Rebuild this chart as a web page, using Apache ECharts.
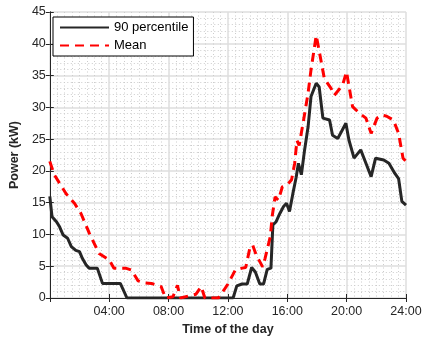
<!DOCTYPE html>
<html>
<head>
<meta charset="utf-8">
<script src="https://cdn.jsdelivr.net/npm/echarts@6/dist/echarts.min.js"></script>
<style>html,body{margin:0;padding:0;background:#fff}#c{width:427px;height:342px}</style>
</head>
<body>
<div id="c"></div>
<script>
// Data (hour of day, kW)
var p90Hours = [0,0.15,0.45,0.66,0.9,1.2,1.45,1.75,2.0,2.2,2.45,2.65,3.2,3.55,4.75,5.2,12.35,12.6,12.95,13.3,13.6,13.85,14.15,14.4,14.65,14.9,15.03,15.25,15.5,15.75,15.95,16.15,16.4,16.6,16.75,16.95,17.15,17.4,17.6,17.95,18.15,18.4,18.85,19.05,19.4,19.7,19.95,20.15,20.5,20.95,21.3,21.65,21.95,22.5,22.85,23.25,23.5,23.72,24];
var p90Values = [16,12.8,12.0,11.2,9.9,9.4,8.1,7.5,7.3,6.2,5.2,4.7,4.7,2.3,2.3,0,0,1.9,2.2,2.2,4.8,4.1,2.2,2.2,4.5,4.7,11.5,12.0,13.3,14.4,14.9,13.6,16.7,19.0,21.2,19.4,23.0,26.9,31.7,33.8,33.2,28.3,28.0,25.6,25.1,26.4,27.5,24.9,22.0,23.3,21.2,19.1,22.0,21.7,21.2,19.6,18.8,15.2,14.6];
var meanHours = [0,0.3,0.7,1.1,1.66,2.1,2.66,3.32,4.0,4.32,5.1,5.5,5.95,6.3,6.85,7.5,7.8,8.3,8.6,8.8,9.85,10.2,10.45,11.35,11.75,12.0,12.5,12.97,13.2,13.5,13.67,13.9,14.34,14.5,14.85,15.0,15.18,15.4,15.67,16.07,16.29,16.5,16.65,16.8,17.1,17.4,17.6,17.95,18.1,18.3,18.5,18.95,19.17,19.73,19.99,20.4,20.9,21.3,21.65,22.05,22.4,22.7,23.15,23.5,23.8,24];
var meanValues = [21.5,19.4,17.9,16.4,14.9,13.3,10.2,7.0,6.0,4.7,4.7,4.4,2.7,2.4,2.3,1.8,0,0.2,2.0,0,0.6,1.8,0,0,1.3,2.2,4.4,4.7,4.8,8.1,8.3,6.8,4.9,6.2,9.6,13.1,15.9,15.4,17.5,18.0,18.6,21.2,24.8,24.0,28.0,32.2,35.9,41.3,39.5,37.0,34.5,33.0,31.9,33.5,35.6,30.1,29.0,28.3,25.9,28.3,28.8,28.6,28.0,25.9,22.0,21.5];
var yTicks = [0,5,10,15,20,25,30,35,40,45];
var xTickHours = [0,4,8,12,16,20,24];

function pairs(h, v){ return h.map(function(x,i){ return [x, v[i]]; }); }
var FONT = 'Liberation Sans';
var TXT = '#262626';

var chart = echarts.init(document.getElementById('c'), null, {renderer:'canvas'});
chart.setOption({
  animation: false,
  backgroundColor: '#fff',
  grid: {left: 45, right: 21, top: 12, bottom: 44, containLabel: false},
  legend: {
    left: 53, top: 17, orient: 'vertical',
    backgroundColor: '#fff', borderColor: '#000', borderWidth: 1,
    padding: [4, 5, 4, 6], itemGap: 5, itemWidth: 49, itemHeight: 14,
    itemStyle: {opacity: 0},
    textStyle: {fontFamily: FONT, fontSize: 13, color: '#000'},
    data: ['90 percentile', 'Mean']
  },
  xAxis: [{
    type: 'value', min: xTickHours[0], max: xTickHours[xTickHours.length-1], interval: 4,
    name: 'Time of the day', nameLocation: 'middle', nameGap: 22,
    nameTextStyle: {fontFamily: FONT, fontSize: 12.5, fontWeight: 'bold', color: TXT},
    axisLine: {lineStyle: {color: '#262626', width: 1}},
    axisTick: {inside: true, length: 4, lineStyle: {color: '#262626'}},
    axisLabel: {fontFamily: FONT, fontSize: 12.5, color: TXT, margin: 7,
      formatter: function(v){ return v === 0 ? '' : (v < 10 ? '0' + v : '' + v) + ':00'; }},
    splitLine: {show: true, lineStyle: {color: '#dedede', width: 1.5}},
    minorTick: {show: false, splitNumber: 8},
    minorSplitLine: {show: true, lineStyle: {color: '#cccccc', width: 1, type: [1, 2.5]}}
  }, {
    type: 'value', position: 'top', min: 0, max: 24, interval: 4,
    axisLine: {show: true, lineStyle: {color: '#262626', width: 1}},
    axisTick: {show: true, inside: true, length: 4, lineStyle: {color: '#262626'}},
    axisLabel: {show: false}, splitLine: {show: false}
  }],
  yAxis: [{
    type: 'value', min: yTicks[0], max: yTicks[yTicks.length-1], interval: 5,
    name: 'Power (kW)', nameLocation: 'middle', nameGap: 21,
    nameTextStyle: {fontFamily: FONT, fontSize: 12.5, fontWeight: 'bold', color: TXT},
    axisLine: {show: true, lineStyle: {color: '#262626', width: 1}},
    axisTick: {show: true, inside: true, length: 4, lineStyle: {color: '#262626'}},
    axisLabel: {fontFamily: FONT, fontSize: 12.5, color: TXT, margin: 4},
    splitLine: {show: true, lineStyle: {color: '#dedede', width: 1.5}},
    minorTick: {show: false, splitNumber: 5},
    minorSplitLine: {show: true, lineStyle: {color: '#cccccc', width: 1, type: [1, 2.5]}}
  }, {
    type: 'value', position: 'right', min: 0, max: 45, interval: 5,
    axisLine: {show: true, lineStyle: {color: '#262626', width: 1}},
    axisTick: {show: true, inside: true, length: 4, lineStyle: {color: '#262626'}},
    axisLabel: {show: false}, splitLine: {show: false}
  }],
  series: [{
    name: '90 percentile', type: 'line', data: pairs(p90Hours, p90Values),
    showSymbol: false, symbol: 'none', color: '#262626',
    lineStyle: {color: '#262626', width: 3}, z: 3
  }, {
    name: 'Mean', type: 'line', data: pairs(meanHours, meanValues),
    showSymbol: false, symbol: 'none', color: '#ff0000',
    lineStyle: {color: '#ff0000', width: 3, type: [9, 6]}, z: 4
  }]
});
</script>
</body>
</html>
